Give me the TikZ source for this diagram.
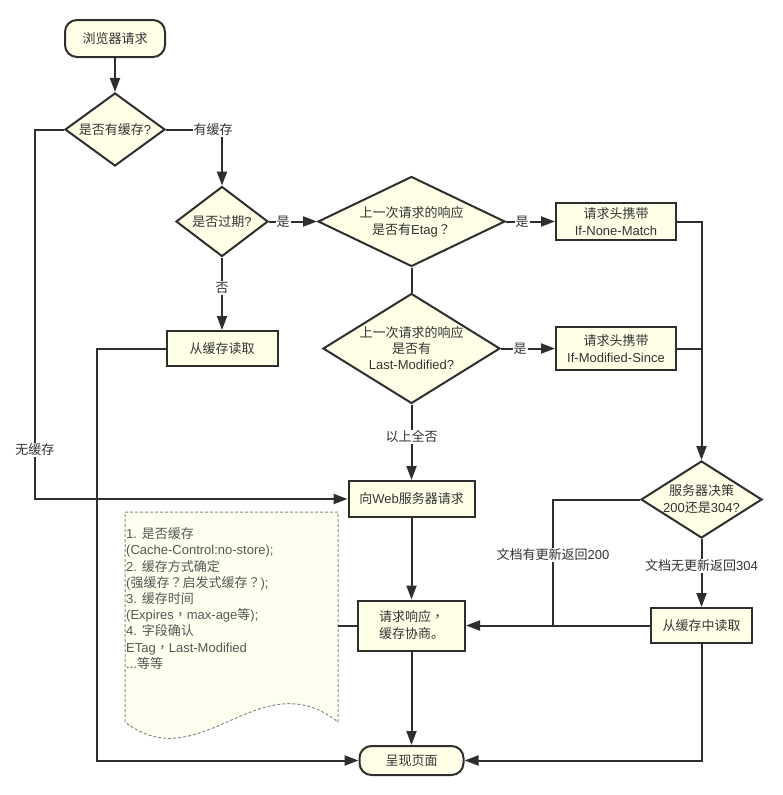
\documentclass[tikz,border=0pt]{standalone}
\usepackage{fontspec}
\setmainfont{Noto Sans CJK SC}
\newfontfamily\lat{Liberation Sans}
\newfontfamily\tcp{Noto Sans CJK TC}
\newcommand\qm{{\tcp ？}}
\newcommand\cm{{\tcp ，}}
\usetikzlibrary{shapes.geometric,arrows.meta}
\definecolor{fillc}{HTML}{FFFFE8}
\definecolor{notec}{HTML}{FFFFF0}
\definecolor{linec}{HTML}{2E2E2E}
\definecolor{txtc}{HTML}{333333}
\definecolor{notetxt}{HTML}{555555}
\definecolor{noteline}{HTML}{888888}
\begin{document}
\begin{tikzpicture}[x=1pt,y=-1pt,
  font=\fontsize{13}{17}\selectfont, text=txtc,
  box/.style={draw=linec, line width=2pt, fill=fillc, rectangle, inner sep=0pt, align=center},
  pill/.style={box, rounded corners=12pt},
  dia/.style={draw=linec, line width=2pt, fill=fillc, diamond, inner sep=0pt},
  conn/.style={draw=linec, line width=2pt},
  arr/.style={conn, -{Triangle[length=14pt,width=10pt]}},
  lbl/.style={fill=white, inner sep=1pt, text=txtc},
]
\useasboundingbox (0,0) rectangle (782,795);

% note shape
\path[draw=noteline, dash pattern=on 3pt off 2pt, fill=notec, line width=1pt]
  (125,512) -- (338,512) -- (338,722) .. controls (260,660) and (200,780) .. (125,722) -- cycle;
\coordinate (noteE) at (338,625.5);
\node[anchor=north west, align=left, inner sep=0pt, text=notetxt,
      font=\fontsize{13}{16.2}\selectfont] (notet) at (126,527.5)
  {{\lat 1. }是否缓存\\
   {\lat (Cache-Control:no-store);}\\
   {\lat 2. }缓存方式确定\\
   {\lat (}强缓存\qm 启发式缓存\qm{\lat );}\\
   {\lat 3. }缓存时间\\
   {\lat (Expires}\cm{\lat max-age}等{\lat );}\\
   {\lat 4. }字段确认\\
   {\lat ETag}\cm{\lat Last-Modified}\\
   {\lat ...}等等};

% nodes
\node[pill, minimum width=100pt, minimum height=37pt] (start) at (115,38.5) {浏览器请求};
\node[dia, minimum width=100pt, minimum height=73pt] (d1) at (115,129.5) {};
\node (d1t) at (d1) {是否有缓存{\lat ?}};
\node[dia, minimum width=92pt, minimum height=70pt] (d2) at (222,221.5) {};
\node (d2t) at (d2) {是否过期{\lat ?}};
\node[dia, minimum width=187pt, minimum height=90pt] (d3) at (411.5,221.5) {};
\node[align=center] (d3t) at (d3) {上一次请求的响应\\是否有{\lat Etag}\qm};
\node[dia, minimum width=177pt, minimum height=110pt] (d4) at (411.5,348.5) {};
\node[align=center, font=\fontsize{13}{16}\selectfont] (d4t) at (d4) {上一次请求的响应\\是否有\\{\lat Last-Modified?}};
\node[box, minimum width=120pt, minimum height=37pt] (b1) at (616,221.5) {请求头携带\\{\lat If-None-Match}};
\node[box, minimum width=120pt, minimum height=43pt] (b2) at (616,348.5) {请求头携带\\{\lat If-Modified-Since}};
\node[box, minimum width=111pt, minimum height=35pt] (c1) at (222,348.5) {从缓存读取};
\node[box, minimum width=126pt, minimum height=36pt] (web) at (411.5,499) {向{\lat Web}服务器请求};
\node[dia, minimum width=121pt, minimum height=77pt] (d5) at (701.5,499.5) {};
\node[align=center] (d5t) at (d5) {服务器决策\\{\lat 200}还是{\lat 304?}};
\node[box, minimum width=101pt, minimum height=35pt] (b3) at (701.5,625.5) {从缓存中读取};
\node[box, minimum width=107pt, minimum height=50pt] (resp) at (411.5,625.5) {请求响应\cm\\缓存协商。};
\node[pill, minimum width=104pt, minimum height=29pt] (end) at (411.5,760.5) {呈现页面};

% connectors
\draw[arr] (start) -- (d1);
\draw[arr] (d1.west) -- (35,129.5) |- (web.west);
\draw[arr] (d1.east) -| (d2.north);
\draw[arr] (d2.east) -- (d3.west);
\draw[arr] (d3.east) -- (b1.west);
\draw[conn] (d3.south) -- (d4.north);
\draw[arr] (d4.east) -- (b2.west);
\draw[arr] (b1.east) -| (d5.north);
\draw[conn] (b2.east) -- (b2.east -| d5.north);
\draw[arr] (d5.south) -- (b3.north);
\coordinate (j200) at (553,625.5);
\draw[conn] (d5.west) -| (j200);
\draw[arr] (b3.west) -- (resp.east);
\draw[arr] (b3.south) |- (end.east);
\draw[arr] (d2.south) -- (c1.north);
\draw[arr] (c1.west) -- (97,348.5) |- (end.west);
\draw[arr] (d4.south) -- (web.north);
\draw[arr] (web) -- (resp);
\draw[arr] (resp) -- (end);
\draw[conn] (noteE) -- (resp.west);

% labels
\node[lbl] (l1) at (35,450) {无缓存};
\node[lbl] (l2) at (213,129.5) {有缓存};
\node[lbl] (l3) at (283,221.5) {是};
\node[lbl] (l4) at (522,221.5) {是};
\node[lbl] (l5) at (520,348.5) {是};
\node[lbl] (l6) at (222,288) {否};
\node[lbl] (l7) at (411.5,437) {以上全否};
\node[lbl] (l8) at (701.5,566) {文档无更新返回{\lat 304}};
\node[lbl] (l9) at (553,555) {文档有更新返回{\lat 200}};
\end{tikzpicture}
\end{document}
